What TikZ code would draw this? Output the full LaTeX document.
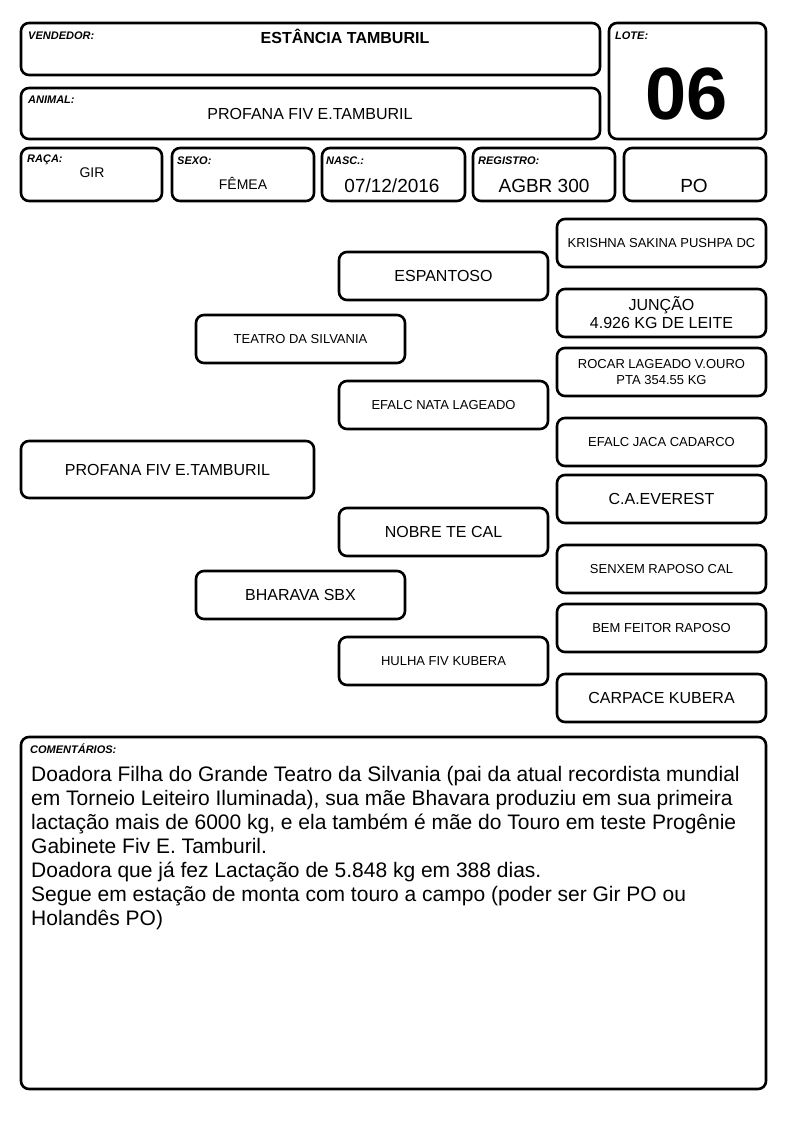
\documentclass[tikz,border=0pt]{standalone}
\usepackage{fontspec}
\setmainfont{Liberation Sans}
\begin{document}
\begin{tikzpicture}[x=1pt,y=-1pt,
  box/.style={draw=black,line width=2.6pt,rounded corners=8pt},
  pbox/.style={box,inner sep=0pt,align=center},
  lbl/.style={anchor=base west,inner sep=0pt,font=\fontsize{11}{12}\selectfont\bfseries\itshape},
  vs/.style={anchor=base,inner sep=0pt,font=\fontsize{14}{16}\selectfont},
  vb/.style={anchor=base,inner sep=0pt,font=\fontsize{19}{22}\selectfont},
  fs/.style={font=\fontsize{13}{17}\selectfont},
  fl/.style={font=\fontsize{16}{19}\selectfont},
]
\useasboundingbox (0,0) rectangle (794,1123);
% header boxes
\node[box,minimum width=579pt,minimum height=52pt] (vend) at (310.5,49) {};
\node[lbl] (vendl) at (28,40) {VENDEDOR:};
\node[anchor=base,inner sep=0pt,font=\fontsize{16}{19}\selectfont\bfseries] (vendv) at (345,44) {ESTÂNCIA TAMBURIL};
\node[box,minimum width=157pt,minimum height=116pt] (lote) at (687.5,81) {};
\node[lbl] (lotel) at (615,40) {LOTE:};
\node[anchor=base,inner sep=0pt,font=\fontsize{74}{80}\selectfont\bfseries] (lotev) at (687,120) {06};
\node[box,minimum width=579pt,minimum height=51pt] (anim) at (310.5,113.5) {};
\node[lbl] (animl) at (28,104) {ANIMAL:};
\node[anchor=base,inner sep=0pt,font=\fontsize{16}{19}\selectfont] (animv) at (310,120) {PROFANA FIV E.TAMBURIL};
\node[box,minimum width=141pt,minimum height=53pt] (raca) at (91.5,174.5) {};
\node[lbl] (racal) at (27,163) {RAÇA:};
\node[vs] (racav) at (92,178) {GIR};
\node[box,minimum width=142pt,minimum height=53pt] (sexo) at (243,174.5) {};
\node[lbl] (sexol) at (177,165) {SEXO:};
\node[vs] (sexov) at (243,190) {FÊMEA};
\node[box,minimum width=143pt,minimum height=53pt] (nasc) at (393.5,174.5) {};
\node[lbl] (nascl) at (326,165) {NASC.:};
\node[vb] (nascv) at (392,193) {07/12/2016};
\node[box,minimum width=142pt,minimum height=53pt] (reg) at (544,174.5) {};
\node[lbl] (regl) at (478,165) {REGISTRO:};
\node[vb] (regv) at (544,193) {AGBR 300};
\node[box,minimum width=142pt,minimum height=53pt] (po) at (695,174.5) {};
\node[vb] (pov) at (694,193) {PO};
% pedigree
\node[pbox,fl,minimum width=293pt,minimum height=57pt] (animal) at (167.5,469.5) {PROFANA FIV E.TAMBURIL};
\node[pbox,fs,minimum width=209pt,minimum height=48pt] (pai) at (300.5,339) {TEATRO DA SILVANIA};
\node[pbox,fl,minimum width=209pt,minimum height=48pt] (mae) at (300.5,595) {BHARAVA SBX};
\node[pbox,fl,minimum width=209pt,minimum height=48pt] (pp) at (443.5,276) {ESPANTOSO};
\node[pbox,fs,minimum width=209pt,minimum height=48pt] (pm) at (443.5,405) {EFALC NATA LAGEADO};
\node[pbox,fl,minimum width=209pt,minimum height=48pt] (mp) at (443.5,532) {NOBRE TE CAL};
\node[pbox,fs,minimum width=209pt,minimum height=48pt] (mm) at (443.5,661) {HULHA FIV KUBERA};
\node[pbox,fs,minimum width=209pt,minimum height=48pt] (ppp) at (661.5,243) {KRISHNA SAKINA PUSHPA DC};
\node[pbox,font=\fontsize{16}{18}\selectfont,minimum width=209pt,minimum height=48pt] (ppm) at (661.5,313) {JUNÇÃO\\4.926 KG DE LEITE};
\node[pbox,font=\fontsize{13}{16.5}\selectfont,minimum width=209pt,minimum height=48pt] (pmp) at (661.5,372) {ROCAR LAGEADO V.OURO\\PTA 354.55 KG};
\node[pbox,fs,minimum width=209pt,minimum height=48pt] (pmm) at (661.5,442) {EFALC JACA CADARCO};
\node[pbox,fl,minimum width=209pt,minimum height=48pt] (mpp) at (661.5,499) {C.A.EVEREST};
\node[pbox,fs,minimum width=209pt,minimum height=48pt] (mpm) at (661.5,569) {SENXEM RAPOSO CAL};
\node[pbox,fs,minimum width=209pt,minimum height=48pt] (mmp) at (661.5,628) {BEM FEITOR RAPOSO};
\node[pbox,fl,minimum width=209pt,minimum height=48pt] (mmm) at (661.5,698) {CARPACE KUBERA};
% comments
\node[box,minimum width=745pt,minimum height=352pt] (com) at (393.5,913) {};
\node[lbl] (coml) at (30,753) {COMENTÁRIOS:};
\node[anchor=base west,inner sep=0pt,align=left,font=\fontsize{21}{24}\selectfont] (comv) at (31,925) {Doadora Filha do Grande Teatro da Silvania (pai da atual recordista mundial\\em Torneio Leiteiro Iluminada), sua mãe Bhavara produziu em sua primeira\\lactação mais de 6000 kg, e ela também é mãe do Touro em teste Progênie\\Gabinete Fiv E. Tamburil.\\Doadora que já fez Lactação de 5.848 kg em 388 dias.\\Segue em estação de monta com touro a campo (poder ser Gir PO ou\\Holandês PO)};
\end{tikzpicture}
\end{document}
